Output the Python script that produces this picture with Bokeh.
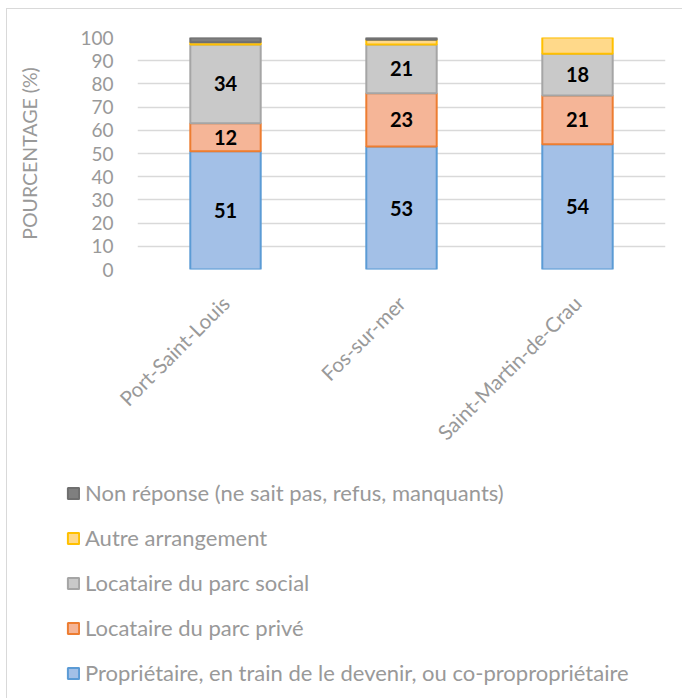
import math
from bokeh.plotting import figure
from bokeh.models import (FactorRange, Range1d, Legend, LegendItem, ColumnDataSource,
                          LabelSet, FixedTicker, CDSView, BooleanFilter)
from bokeh.core.properties import value
from bokeh.embed import file_html
from bokeh.resources import INLINE

# ---- data ----
communes = ["Port-Saint-Louis", "Fos-sur-mer", "Saint-Martin-de-Crau"]
proprietaire = [51, 53, 54]
parc_prive = [12, 23, 21]
parc_social = [34, 21, 18]
autre = [1, 2, 7]
non_reponse = [2, 1, 0]
series_names = [
    "Propriétaire, en train de le devenir, ou co-propropriétaire",
    "Locataire du parc privé",
    "Locataire du parc social",
    "Autre arrangement",
    "Non réponse (ne sait pas, refus, manquants)",
]
y_ticks = [0, 10, 20, 30, 40, 50, 60, 70, 80, 90, 100]
y_label = "POURCENTAGE (%)"

# ---- styles ----
FONT = "Lato"
fills = ["#a3c0e7", "#f5b597", "#c9c9c9", "#ffd98a", "#7f7f7f"]
lines = ["#5b9bd5", "#ed7d31", "#a5a5a5", "#ffc000", "#6f6f6f"]
TXT = "#999999"
BORDER = "1px solid #d9d9d9"
W = 676
H_TOP = 461
H_LEG = 229

series = [proprietaire, parc_prive, parc_social, autre, non_reponse]
keys = ["s0", "s1", "s2", "s3", "s4"]
data = {"commune": communes}
for k, s in zip(keys, series):
    data[k] = s
src = ColumnDataSource(data)

p = figure(
    x_range=FactorRange(*communes), y_range=Range1d(0, 100),
    width=W, height=H_TOP, output_backend="svg", toolbar_location=None,
    min_border_left=130, min_border_right=W - 658, min_border_top=28,
    min_border_bottom=H_TOP - 260, margin=(8, 0, 0, 6),
)
p.styles = {"border-top": BORDER, "border-left": BORDER}
p.outline_line_color = None

views = [CDSView(filter=BooleanFilter([v > 0 for v in s])) for s in series]
renderers = p.vbar_stack(keys, x="commune", width=0.4, source=src,
                         fill_color=fills, line_color=lines, line_width=2,
                         view=views)

# data labels for the first three series
lx, ly, lt = [], [], []
base = [0] * len(communes)
for si, s in enumerate(series):
    for ci, c in enumerate(communes):
        if si < 3:
            lx.append(c)
            ly.append(base[ci] + s[ci] / 2)
            lt.append(str(s[ci]))
        base[ci] += s[ci]
lab_src = ColumnDataSource(dict(x=lx, y=ly, t=lt))
labels = LabelSet(x="x", y="y", text="t", source=lab_src, text_align="center",
                  text_baseline="middle", text_font=value(FONT), text_font_style="bold",
                  text_font_size="20px", text_color="#000000")
p.add_layout(labels)

# axes
p.xgrid.grid_line_color = None
p.ygrid.grid_line_color = "#d9d9d9"
p.ygrid.grid_line_width = 1.5
p.yaxis.ticker = FixedTicker(ticks=y_ticks)
for ax in (p.xaxis[0], p.yaxis[0]):
    ax.axis_line_color = None
    ax.major_tick_line_color = None
    ax.minor_tick_line_color = None
    ax.major_tick_out = 0
    ax.major_label_text_font = FONT
    ax.major_label_text_color = TXT
    ax.major_label_text_font_size = "19px"
p.yaxis.major_label_standoff = 24
p.yaxis.axis_label = y_label
p.yaxis.axis_label_text_font = FONT
p.yaxis.axis_label_text_font_style = "normal"
p.yaxis.axis_label_text_color = TXT
p.yaxis.axis_label_text_font_size = "19.5px"
p.yaxis.axis_label_standoff = 36
p.xaxis.major_label_orientation = math.pi / 4
p.xaxis.major_label_standoff = 30
p.xaxis.major_label_text_font_size = "20.5px"

# legend figure: swatch renderers with no drawable point (NaN), styled like the bars
pl = figure(width=W, height=H_LEG, output_backend="svg", toolbar_location=None,
            x_axis_type=None, y_axis_type=None,
            min_border_left=0, min_border_right=0, min_border_top=0, min_border_bottom=0,
            x_range=Range1d(0, 1), y_range=Range1d(0, 1), margin=(0, 0, 0, 6))
pl.styles = {"border-left": BORDER}
pl.outline_line_color = None
pl.xgrid.visible = False
pl.ygrid.visible = False
nan_src = ColumnDataSource(dict(x=[float("nan")], top=[float("nan")]))
swatches = [pl.vbar(x="x", top="top", width=0.1, source=nan_src,
                    fill_color=fills[i], line_color=lines[i], line_width=2)
            for i in range(5)]
items = [LegendItem(label=series_names[i], renderers=[swatches[i]]) for i in range(4, -1, -1)]
legend = Legend(items=items, location=(59, 12), orientation="vertical",
                glyph_width=14, glyph_height=14, label_height=27, spacing=18,
                label_standoff=5, padding=0, margin=0, border_line_color=None,
                background_fill_alpha=0, label_text_font=FONT,
                label_text_font_size="22px", label_text_color=TXT)
pl.add_layout(legend, "center")

open("out.html", "w").write(file_html([p, pl], INLINE))
